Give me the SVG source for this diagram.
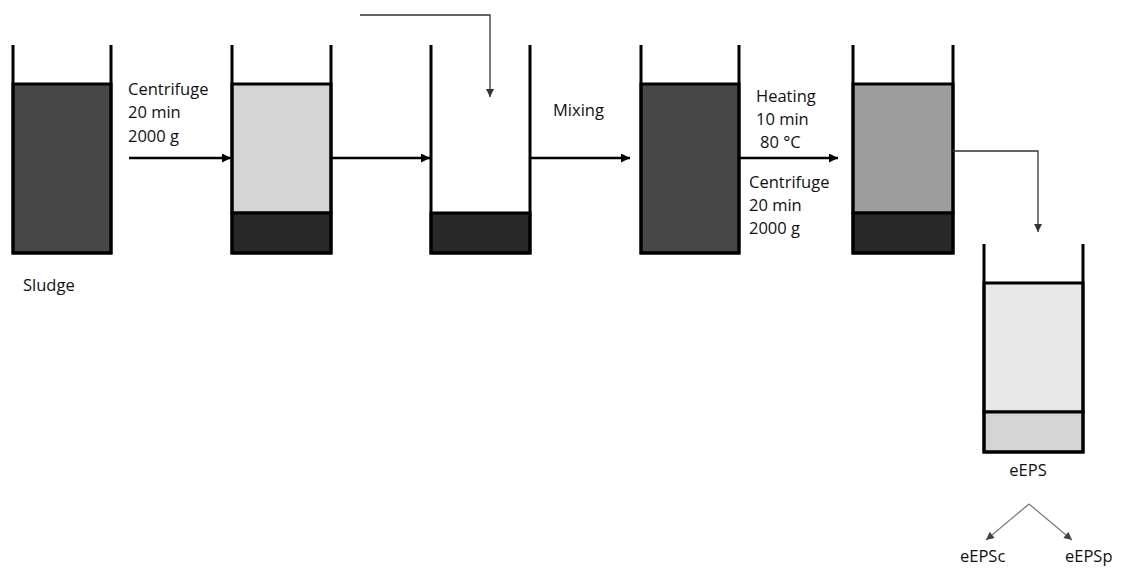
<svg xmlns="http://www.w3.org/2000/svg" width="1122" height="569" viewBox="0 0 1122 569">
  <style>
    .wall { fill: none; stroke: #000; stroke-width: 3; stroke-linejoin: miter; }
    .layer { stroke: #000; stroke-width: 3; }
    .flow { fill: none; stroke: #000; stroke-width: 2.5; }
    .thin { fill: none; stroke: #333; stroke-width: 1.3; }
    .split { fill: none; stroke: #777; stroke-width: 1.2; }
    text { font-family: "Open Sans", "Liberation Sans", sans-serif; font-size: 16.5px; fill: #111; }
  </style>
  <defs>
    <marker id="head" viewBox="0 0 10 10" refX="10" refY="5" markerUnits="userSpaceOnUse" markerWidth="11" markerHeight="9" orient="auto">
      <path d="M0,0 L10,5 L0,10 Z" fill="#000"/>
    </marker>
    <marker id="headThin" viewBox="0 0 10 10" refX="10" refY="5" markerUnits="userSpaceOnUse" markerWidth="8" markerHeight="8" orient="auto">
      <path d="M0,0 L10,5 L0,10 Z" fill="#333"/>
    </marker>
    <marker id="headGray" viewBox="0 0 10 10" refX="10" refY="5" markerUnits="userSpaceOnUse" markerWidth="9" markerHeight="8" orient="auto">
      <path d="M0,0 L10,5 L0,10 Z" fill="#444"/>
    </marker>
  </defs>

  <!-- raw sludge -->
  <g id="tube-sludge">
    <rect class="layer" x="13" y="84" width="98" height="169" fill="#474747"/>
    <path class="wall" d="M13,45 V253 H111 V45"/>
    <text x="23" y="291">Sludge</text>
  </g>

  <!-- after first centrifugation -->
  <g id="tube-centrifuged">
    <rect class="layer" x="232" y="84" width="99" height="129" fill="#d4d4d4"/>
    <rect class="layer" x="232" y="213" width="99" height="40" fill="#282828"/>
    <path class="wall" d="M232,45 V253 H331 V45"/>
  </g>

  <!-- pellet only -->
  <g id="tube-pellet">
    <rect class="layer" x="431" y="213" width="99" height="40" fill="#282828"/>
    <path class="wall" d="M431,45 V253 H530 V45"/>
  </g>

  <!-- resuspended pellet -->
  <g id="tube-mixed">
    <rect class="layer" x="641" y="84" width="98" height="169" fill="#474747"/>
    <path class="wall" d="M641,45 V253 H739 V45"/>
  </g>

  <!-- after heating and centrifugation -->
  <g id="tube-heated">
    <rect class="layer" x="853" y="84" width="100" height="129" fill="#9e9e9e"/>
    <rect class="layer" x="853" y="213" width="100" height="40" fill="#282828"/>
    <path class="wall" d="M853,45 V253 H953 V45"/>
  </g>

  <!-- extracted EPS -->
  <g id="tube-eeps">
    <rect class="layer" x="984" y="283" width="99" height="129" fill="#e8e8e8"/>
    <rect class="layer" x="984" y="412" width="99" height="40" fill="#d4d4d4"/>
    <path class="wall" d="M984,244 V452 H1083 V244"/>
    <text x="1028" y="476" text-anchor="middle">eEPS</text>
  </g>

  <g id="fractions">
    <text x="960" y="562">eEPSc</text>
    <text x="1065" y="562">eEPSp</text>
  </g>

  <!-- step labels -->
  <g id="labels">
    <text x="128" y="95">Centrifuge</text>
    <text x="128" y="118">20 min</text>
    <text x="128" y="142">2000 g</text>
    <text x="553" y="116">Mixing</text>
    <text x="756" y="102">Heating</text>
    <text x="756" y="125">10 min</text>
    <text x="760" y="148">80 °C</text>
    <text x="749" y="188">Centrifuge</text>
    <text x="749" y="211">20 min</text>
    <text x="749" y="234">2000 g</text>
  </g>

  <g id="connectors">
    <path class="flow" d="M129,158 H231" marker-end="url(#head)"/>
    <path class="flow" d="M331,158 H430" marker-end="url(#head)"/>
    <path class="flow" d="M530,158 H630" marker-end="url(#head)"/>
    <path class="flow" d="M739,158 H838" marker-end="url(#head)"/>
    <path class="thin" d="M360,15 H490 V97" marker-end="url(#headThin)"/>
    <path class="thin" d="M953,151 H1038 V232" marker-end="url(#headThin)"/>
    <path class="split" d="M1029,504 L986,540" marker-end="url(#headGray)"/>
    <path class="split" d="M1029,504 L1072,540" marker-end="url(#headGray)"/>
  </g>
</svg>
